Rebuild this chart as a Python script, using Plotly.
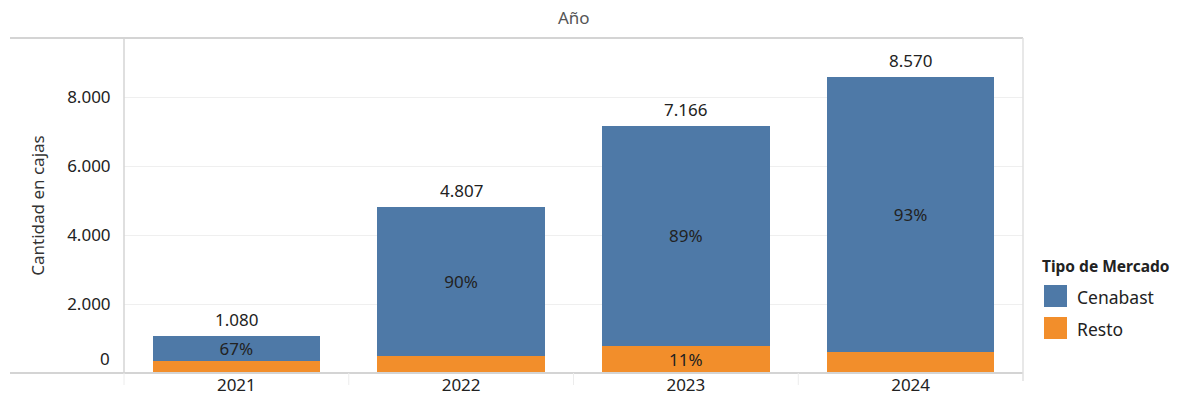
import plotly.graph_objects as go

years = ["2021", "2022", "2023", "2024"]
cenabast = [724, 4326, 6378, 7970]
resto = [356, 481, 788, 600]
cenabast_pct = ["67%", "90%", "89%", "93%"]
resto_pct = ["", "", "11%", ""]
y_ticks = [0, 2000, 4000, 6000, 8000]
series_names = ["Cenabast", "Resto"]

BLUE = "#4e79a7"
ORANGE = "#f28e2b"
FONT = "Noto Sans"
TXT = "#222222"
FS = 17

totals = [c + r for c, r in zip(cenabast, resto)]
total_labels = [f"{t:,}".replace(",", ".") for t in totals]
tick_labels = [f"{v:,}".replace(",", ".") if v else "" for v in y_ticks]

fig = go.Figure()
fig.add_bar(x=years, y=resto, name=series_names[1], marker_color=ORANGE, marker_line_width=0,
            text=resto_pct, textposition="inside", insidetextanchor="middle",
            textfont=dict(color=TXT, size=FS, family=FONT), constraintext="none",
            showlegend=False, hoverinfo="x+y")
fig.add_bar(x=years, y=cenabast, name=series_names[0], marker_color=BLUE, marker_line_width=0,
            text=cenabast_pct, textposition="inside", insidetextanchor="middle",
            textfont=dict(color=TXT, size=FS, family=FONT), constraintext="none",
            showlegend=False, hoverinfo="x+y")

L, R, T, B = 124, 1023, 38, 373
W, H = 1177, 400
pw, ph = R - L, B - T

def px_x(x):
    return (x - L) / pw

def px_y(y):
    return (B - y) / ph

annotations = [
    dict(text="Año", xref="paper", yref="paper", x=0.5, y=1, yanchor="bottom",
         yshift=7, showarrow=False, font=dict(size=17, color="#555555", family=FONT)),
    dict(text="0", xref="paper", yref="y", x=0, y=0, xanchor="right", yanchor="bottom",
         xshift=-12, yshift=1, showarrow=False, font=dict(size=FS, color=TXT, family=FONT)),
    dict(text="<b>Tipo de Mercado</b>", xref="paper", yref="paper", x=px_x(1040),
         y=px_y(266), xanchor="left", yanchor="middle", showarrow=False,
         font=dict(size=15.5, color=TXT, family=FONT)),
]
for i, (tot, lab) in enumerate(zip(totals, total_labels)):
    annotations.append(dict(text=lab, x=i, y=tot, xref="x", yref="y", yanchor="bottom",
                            yshift=3, showarrow=False,
                            font=dict(size=FS, color=TXT, family=FONT)))

shapes = [
    dict(type="line", xref="paper", yref="paper", x0=px_x(10), x1=1.0,
         y0=1, y1=1, line=dict(color="#d4d4d4", width=2)),
    dict(type="line", xref="paper", yref="paper", x0=px_x(10), x1=1.0,
         y0=0, y1=0, line=dict(color="#d4d4d4", width=2)),
    dict(type="line", xref="paper", yref="paper", x0=0, x1=0, y0=0, y1=1,
         line=dict(color="#d4d4d4", width=1.5)),
    dict(type="line", xref="paper", yref="paper", x0=1, x1=1, y0=-8 / ph, y1=1,
         line=dict(color="#e0e0e0", width=1.5)),
] + [
    dict(type="line", xref="paper", yref="paper", x0=i / 4, x1=i / 4,
         y0=-12 / ph, y1=0, line=dict(color="#ececec", width=1))
    for i in range(4)
]

# legend (swatches + labels)
for k, (name, col) in enumerate(zip(series_names, [BLUE, ORANGE])):
    cy = 296 + 32 * k
    shapes.append(dict(type="rect", xref="paper", yref="paper",
                       x0=px_x(1044), x1=px_x(1067), y0=px_y(cy - 11), y1=px_y(cy + 11),
                       fillcolor=col, line=dict(width=0)))
    annotations.append(dict(text=name, xref="paper", yref="paper", x=px_x(1075),
                            y=px_y(cy + 1), xanchor="left", yanchor="middle", showarrow=False,
                            font=dict(size=17.5, color=TXT, family=FONT)))

fig.update_layout(
    width=W, height=H, autosize=False,
    margin=dict(l=L, r=W - R, t=T, b=H - B, pad=0),
    paper_bgcolor="white", plot_bgcolor="white",
    barmode="stack", bargap=0.255, showlegend=False,
    font=dict(family=FONT, size=FS, color=TXT),
    xaxis=dict(
        type="category", categoryorder="array", categoryarray=years,
        range=[-0.5, len(years) - 0.5], showgrid=False, showline=False, zeroline=False,
        ticks="", automargin=False,
        tickfont=dict(size=FS, color=TXT),
    ),
    yaxis=dict(
        range=[0, 9710], tickvals=y_ticks, ticktext=tick_labels,
        showgrid=True, gridcolor="#efefef", gridwidth=1, zeroline=False,
        showline=False, ticks="outside", ticklen=9, tickcolor="rgba(0,0,0,0)",
        automargin=False, tickfont=dict(size=FS, color=TXT),
        title=dict(text="Cantidad en cajas", font=dict(size=17, color="#333333"), standoff=18),
    ),
    shapes=shapes,
    annotations=annotations,
)

fig.write_html("out.html")
